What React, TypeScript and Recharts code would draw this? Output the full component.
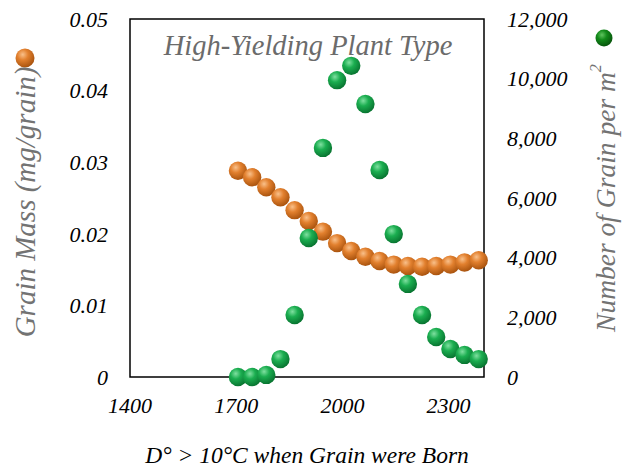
import { Label, ReferenceArea, Scatter, ScatterChart, XAxis, YAxis } from "recharts";

const SERIF = "'Liberation Serif', 'Times New Roman', serif";

// degree-days > 10°C at the time the grain was born
const temps = [1705, 1745, 1785, 1825, 1865, 1905, 1945, 1985, 2025, 2065, 2105, 2145, 2185, 2225, 2265, 2305, 2345, 2385];
// grain mass, mg per grain
const grainMass = [0.0288, 0.0279, 0.0265, 0.0251, 0.0233, 0.0218, 0.0203, 0.0187, 0.0176, 0.0168, 0.0162, 0.0157, 0.0155, 0.0154, 0.0155, 0.0157, 0.016, 0.0163];
// number of grains per m2
const grainCount = [0, 0, 70, 600, 2080, 4660, 7680, 9950, 10430, 9150, 6940, 4790, 3120, 2080, 1340, 940, 740, 600];

const xTicks = [1400, 1700, 2000, 2300];
const massTicks = [0, 0.01, 0.02, 0.03, 0.04, 0.05];
const countTicks = [0, 2000, 4000, 6000, 8000, 10000, 12000];

const massData = temps.map((x, i) => ({ x, y: grainMass[i] }));
const countData = temps.map((x, i) => ({ x, y: grainCount[i] }));

const serifItalic = { fontFamily: SERIF, fontStyle: "italic" };
const tickStyle = { fill: "#000", fontSize: 22, ...serifItalic };

const ball = (grad: string) => (p: any) => <circle cx={p.cx} cy={p.cy} r={9.2} fill={`url(#${grad})`} />;

export default function App() {
  return (
    <div style={{ position: "absolute", left: 0, top: 0 }}>
      <ScatterChart width={622} height={469} margin={{ top: 19, right: 0, bottom: 0, left: 0 }}>
        <defs>
          <radialGradient id="orangeBall" cx="38%" cy="32%" r="72%">
            <stop offset="0%" stopColor="#f9c08a" />
            <stop offset="40%" stopColor="#e2802e" />
            <stop offset="100%" stopColor="#a5500c" />
          </radialGradient>
          <radialGradient id="greenBall" cx="38%" cy="32%" r="72%">
            <stop offset="0%" stopColor="#7fe0a0" />
            <stop offset="40%" stopColor="#1bae50" />
            <stop offset="100%" stopColor="#07702e" />
          </radialGradient>
          <radialGradient id="legendGreen" cx="38%" cy="32%" r="72%">
            <stop offset="0%" stopColor="#5fc45f" />
            <stop offset="40%" stopColor="#138a1a" />
            <stop offset="100%" stopColor="#05500a" />
          </radialGradient>
        </defs>
        <XAxis
          type="number"
          dataKey="x"
          domain={[1400, 2400]}
          ticks={xTicks}
          height={92}
          axisLine={false}
          tickLine={false}
          tickMargin={14}
          tick={tickStyle}
        >
          <Label
            content={() => (
              <text x={307} y={463} textAnchor="middle" fontSize={23.5} fill="#000" {...serifItalic}>
                D° &gt; 10°C when Grain were Born
              </text>
            )}
          />
        </XAxis>
        <YAxis
          yAxisId="left"
          type="number"
          dataKey="y"
          domain={[0, 0.05]}
          ticks={massTicks}
          width={130}
          axisLine={false}
          tickLine={false}
          tickMargin={16}
          tick={tickStyle}
          tickFormatter={(v) => (v === 0 ? "0" : v.toFixed(2))}
        >
          <Label
            content={() => (
              <g>
                <circle cx={25} cy={58} r={9.5} fill="url(#orangeBall)" />
                <text
                  x={25}
                  y={202}
                  transform="rotate(-90 25 202)"
                  textAnchor="middle"
                  dominantBaseline="central"
                  fontSize={29}
                  fill="#737373"
                  {...serifItalic}
                >
                  Grain Mass (mg/grain)
                </text>
              </g>
            )}
          />
        </YAxis>
        <YAxis
          yAxisId="right"
          orientation="right"
          type="number"
          dataKey="y"
          domain={[0, 12000]}
          ticks={countTicks}
          width={138}
          axisLine={false}
          tickLine={false}
          tickMargin={17}
          tick={tickStyle}
          tickFormatter={(v) => v.toLocaleString("en-US")}
        >
          <Label
            content={() => (
              <g>
                <circle cx={604} cy={38} r={8.5} fill="url(#legendGreen)" />
                <text
                  x={605}
                  y={198}
                  transform="rotate(-90 605 198)"
                  textAnchor="middle"
                  dominantBaseline="central"
                  fontSize={27.5}
                  fill="#737373"
                  {...serifItalic}
                >
                  Number of Grain per m
                  <tspan dy={-10} fontSize={16}>2</tspan>
                </text>
              </g>
            )}
          />
        </YAxis>
        <ReferenceArea
          yAxisId="left"
          x1={1400}
          x2={2400}
          y1={0}
          y2={0.05}
          fill="none"
          stroke="#000"
          strokeWidth={1.5}
          ifOverflow="visible"
        >
          <Label
            content={() => (
              <text x={308} y={55} textAnchor="middle" fontSize={28.5} fill="#6b6b6b" {...serifItalic}>
                High-Yielding Plant Type
              </text>
            )}
          />
        </ReferenceArea>
        <Scatter
          yAxisId="left"
          data={massData}
          shape={ball("orangeBall")}
          isAnimationActive={false}
        />
        <Scatter
          yAxisId="right"
          data={countData}
          shape={ball("greenBall")}
          isAnimationActive={false}
        />
      </ScatterChart>
    </div>
  );
}
